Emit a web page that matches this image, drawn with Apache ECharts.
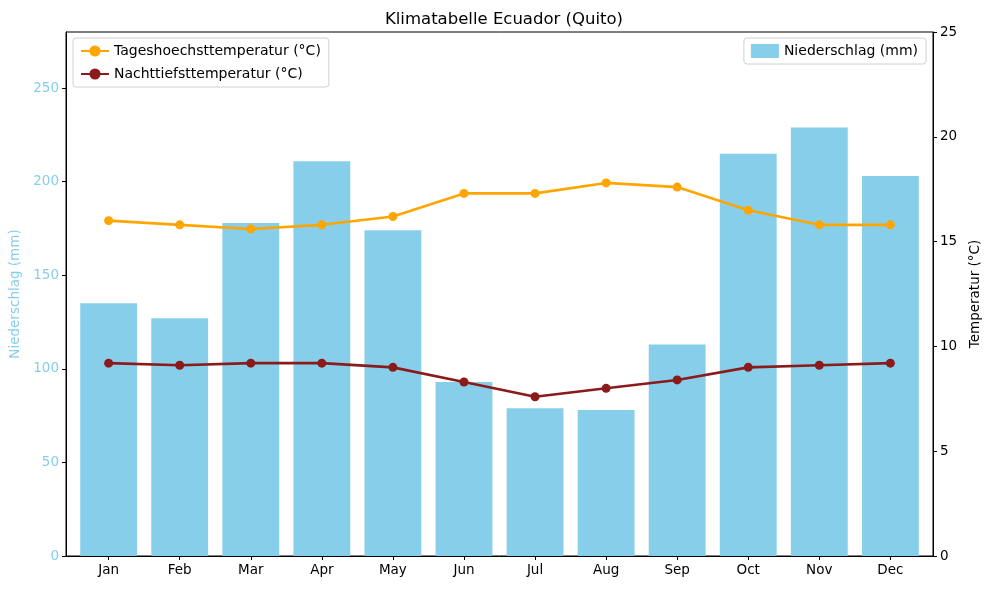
<!DOCTYPE html>
<html>
<head>
<meta charset="utf-8">
<script src="https://cdn.jsdelivr.net/npm/echarts@6.0.0/dist/echarts.min.js"></script>
<style>
  html, body { margin: 0; padding: 0; background: #fff; }
  #chart { width: 989px; height: 590px; }
</style>
</head>
<body>
<div id="chart"></div>
<script>
const months = ['Jan', 'Feb', 'Mar', 'Apr', 'May', 'Jun', 'Jul', 'Aug', 'Sep', 'Oct', 'Nov', 'Dec']
const rain = [135, 127, 178, 211, 174, 93, 79, 78, 113, 215, 229, 203]
const tempMax = [16.0, 15.8, 15.6, 15.8, 16.2, 17.3, 17.3, 17.8, 17.6, 16.5, 15.8, 15.8]
const tempMin = [9.2, 9.1, 9.2, 9.2, 9.0, 8.3, 7.6, 8.0, 8.4, 9.0, 9.1, 9.2]

const font = 'DejaVu Sans'
const idx = months.map((m, i) => i)
const pairs = arr => arr.map((v, i) => [i, v])

const chart = echarts.init(document.getElementById('chart'), null, { renderer: 'canvas' })

const legendBox = {
  orient: 'vertical',
  backgroundColor: '#fff',
  borderColor: '#d0d0d0',
  borderWidth: 1,
  borderRadius: 3,
  padding: [6, 8, 6, 7],
  itemGap: 9,
  itemWidth: 28,
  itemHeight: 14,
  textStyle: { fontFamily: font, fontSize: 14, color: '#000' }
}

chart.setOption({
  animation: false,
  title: {
    text: 'Klimatabelle Ecuador (Quito)',
    left: 499,
    textAlign: 'center',
    top: 6,
    textStyle: { fontFamily: font, fontSize: 16.5, fontWeight: 'normal', color: '#000' }
  },
  legend: [
    Object.assign({}, legendBox, {
      left: 73, top: 38,
      data: ['Tageshoechsttemperatur (°C)', 'Nachttiefsttemperatur (°C)']
    }),
    Object.assign({}, legendBox, {
      right: 63, top: 38,
      data: [{ name: 'Niederschlag (mm)', icon: 'rect' }]
    })
  ],
  grid: {
    left: 66, right: 56, top: 32, bottom: 34,
    outerBoundsMode: 'none',
    containLabel: false,
    show: true, borderColor: '#000', borderWidth: 1, backgroundColor: 'transparent'
  },
  xAxis: {
    type: 'value',
    min: -0.6,
    max: 11.6,
    splitLine: { show: false },
    axisLine: { show: true, onZero: false, lineStyle: { color: '#000' } },
    axisTick: { show: true, customValues: idx, length: 4, lineStyle: { color: '#000' } },
    axisLabel: {
      customValues: idx,
      formatter: v => months[Math.round(v)],
      fontFamily: font, fontSize: 13.5, color: '#000', margin: 7
    }
  },
  yAxis: [
    {
      type: 'value',
      min: 0, max: 280, interval: 50,
      name: 'Niederschlag (mm)',
      nameLocation: 'middle',
      nameGap: 43,
      nameTextStyle: { fontFamily: font, fontSize: 13.5, color: '#87CEEB' },
      splitLine: { show: false },
      axisLine: { show: true, onZero: false, lineStyle: { color: '#000' } },
      axisTick: { show: true, length: 4, lineStyle: { color: '#000' } },
      axisLabel: { showMaxLabel: false, fontFamily: font, fontSize: 13.5, color: '#87CEEB', margin: 7 }
    },
    {
      type: 'value',
      min: 0, max: 25, interval: 5,
      position: 'right',
      name: 'Temperatur (°C)',
      nameLocation: 'middle',
      nameGap: 32,
      nameRotate: 90,
      nameTextStyle: { fontFamily: font, fontSize: 13.5, color: '#000' },
      splitLine: { show: false },
      axisLine: { show: true, onZero: false, lineStyle: { color: '#000' } },
      axisTick: { show: true, length: 4, lineStyle: { color: '#000' } },
      axisLabel: { fontFamily: font, fontSize: 13.5, color: '#000', margin: 7 }
    }
  ],
  series: [
    {
      name: 'Niederschlag (mm)',
      type: 'bar',
      yAxisIndex: 0,
      barWidth: '80%',
      itemStyle: { color: '#87CEEB' },
      data: pairs(rain),
      z: 1
    },
    {
      name: 'Tageshoechsttemperatur (°C)',
      type: 'line',
      yAxisIndex: 1,
      symbol: 'circle',
      symbolSize: 9,
      lineStyle: { width: 2.6, color: '#FFA500' },
      itemStyle: { color: '#FFA500' },
      data: pairs(tempMax),
      z: 3
    },
    {
      name: 'Nachttiefsttemperatur (°C)',
      type: 'line',
      yAxisIndex: 1,
      symbol: 'circle',
      symbolSize: 9,
      lineStyle: { width: 2.6, color: '#8B1A1A' },
      itemStyle: { color: '#8B1A1A' },
      data: pairs(tempMin),
      z: 3
    }
  ]
})
</script>
</body>
</html>
